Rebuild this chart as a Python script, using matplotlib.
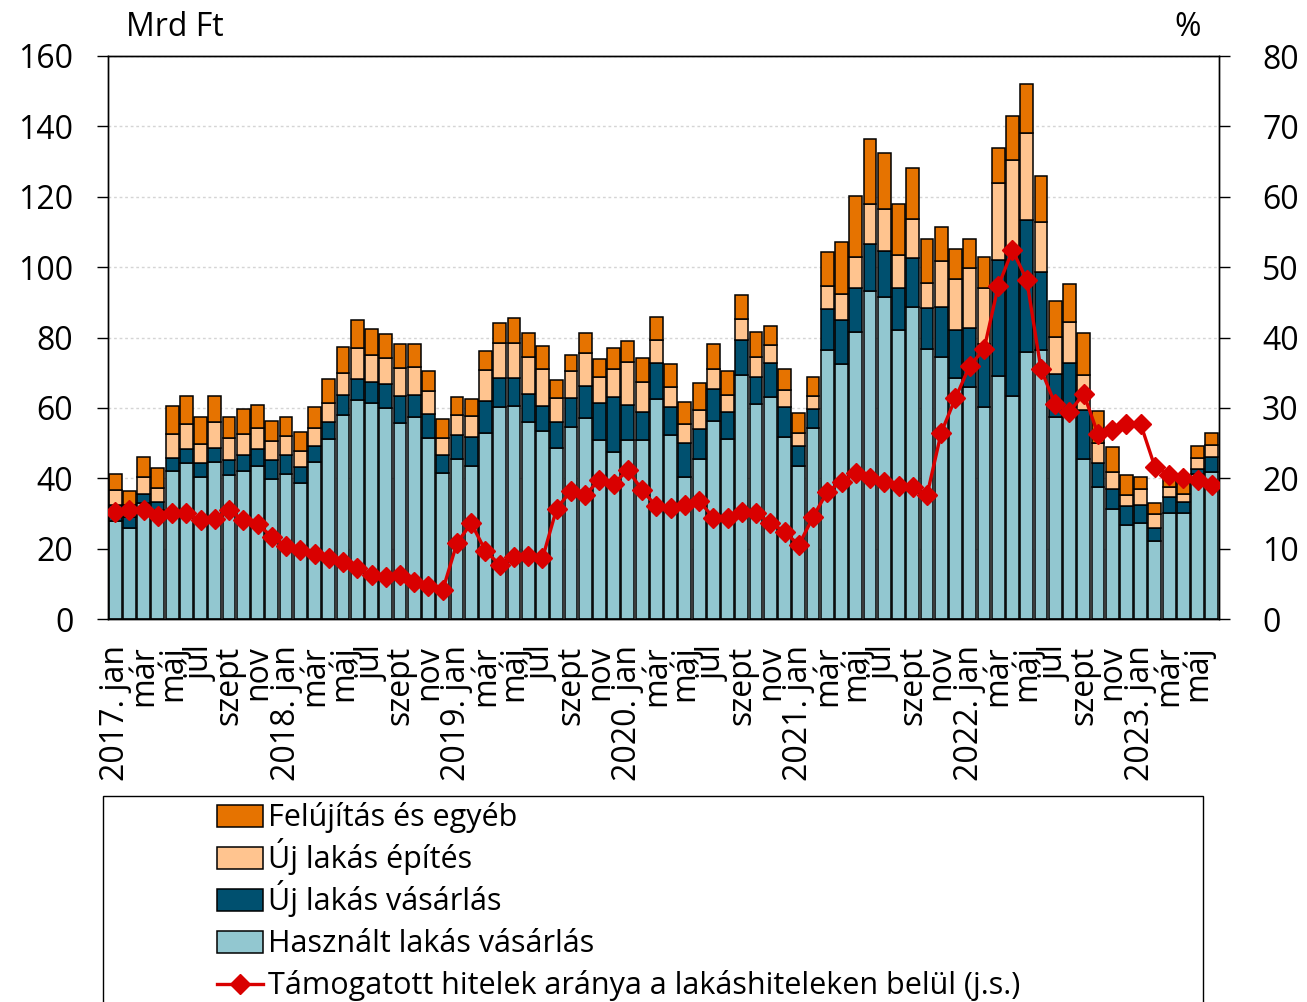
import numpy as np
import matplotlib
matplotlib.use("Agg")
import matplotlib.pyplot as plt
from matplotlib.patches import Rectangle
from matplotlib.lines import Line2D

plt.rcParams['font.family'] = ['Open Sans', 'DejaVu Sans']

# monthly, 2017 jan .. 2023 jun (Mrd Ft)
hasznalt = [27.9, 25.8, 33.0, 31.0, 42.1, 44.2, 40.3, 44.6, 40.9, 42.0, 43.5, 39.8,
            41.2, 38.6, 44.6, 51.1, 57.9, 62.2, 61.3, 60.1, 55.8, 57.5, 51.4, 41.4,
            45.4, 43.6, 52.9, 60.3, 60.5, 56.0, 53.3, 48.5, 54.7, 57.0, 50.9, 47.5,
            50.9, 50.9, 62.5, 52.2, 40.4, 45.4, 56.4, 51.1, 69.3, 61.0, 63.0, 51.6,
            43.6, 54.2, 76.4, 72.5, 81.6, 93.1, 91.6, 82.1, 88.6, 76.7, 74.5, 68.4,
            66.0, 60.2, 69.1, 63.4, 75.8, 76.4, 57.3, 58.0, 45.6, 37.6, 31.4, 26.7,
            27.2, 22.2, 30.2, 30.0, 41.2, 41.9]
uj_vasarlas = [4.6, 3.1, 2.5, 2.2, 3.7, 4.0, 3.9, 4.0, 4.3, 4.7, 4.9, 5.4,
               5.4, 4.7, 4.7, 4.8, 5.8, 6.0, 6.0, 6.7, 7.6, 6.1, 6.8, 5.2,
               6.9, 8.2, 9.0, 8.3, 8.1, 7.9, 7.3, 7.6, 8.2, 9.2, 10.6, 15.7,
               9.8, 7.8, 10.2, 8.1, 9.7, 8.7, 8.9, 7.7, 10.0, 7.9, 9.7, 8.7,
               5.7, 5.6, 11.7, 12.5, 12.4, 13.4, 13.0, 12.1, 13.9, 11.8, 14.3, 13.7,
               16.6, 17.9, 32.9, 41.5, 37.6, 22.3, 12.3, 14.7, 13.8, 6.8, 5.6, 5.4,
               5.2, 3.7, 4.4, 3.3, 1.4, 4.2]
uj_epites = [4.2, 3.5, 4.9, 4.1, 6.8, 7.2, 5.5, 7.4, 6.3, 5.9, 6.0, 5.4,
             5.4, 4.5, 5.1, 5.4, 6.3, 8.7, 7.7, 7.4, 7.9, 7.9, 6.6, 4.9,
             5.7, 5.9, 8.8, 9.7, 9.9, 10.6, 10.4, 6.6, 7.6, 9.5, 7.4, 7.8,
             12.2, 8.7, 6.6, 5.7, 5.3, 5.3, 5.7, 4.9, 5.9, 5.5, 5.2, 4.8,
             3.5, 3.6, 6.6, 7.4, 9.0, 11.3, 11.9, 9.2, 11.3, 7.1, 12.8, 14.6,
             17.2, 15.9, 21.8, 25.5, 24.6, 14.0, 10.5, 11.8, 9.9, 5.5, 4.9, 3.1,
             4.6, 3.9, 3.0, 2.1, 3.1, 3.3]
felujitas = [4.5, 4.1, 5.7, 5.5, 7.9, 8.1, 7.6, 7.5, 5.8, 7.0, 6.5, 5.6,
             5.3, 5.3, 5.8, 6.9, 7.3, 8.2, 7.4, 6.7, 6.9, 6.7, 5.8, 5.3,
             5.0, 4.8, 5.6, 5.9, 7.1, 6.8, 6.6, 5.2, 4.5, 5.5, 5.0, 5.9,
             6.1, 6.7, 6.6, 6.5, 6.4, 7.6, 7.1, 6.9, 6.9, 7.1, 5.4, 6.0,
             5.8, 5.3, 9.6, 14.8, 17.2, 18.5, 15.8, 14.6, 14.4, 12.5, 9.9, 8.4,
             8.2, 9.0, 10.1, 12.5, 14.0, 13.2, 10.3, 10.8, 11.9, 9.2, 7.1, 5.6,
             3.4, 3.1, 2.7, 3.6, 3.5, 3.6]
# %
tamogatott = [15.2, 15.5, 15.5, 14.6, 15.0, 15.0, 14.0, 14.2, 15.5, 14.0, 13.5, 11.7,
              10.4, 9.8, 9.3, 8.6, 8.1, 7.2, 6.3, 5.9, 6.3, 5.2, 4.7, 4.1,
              10.8, 13.6, 9.7, 7.7, 8.8, 9.0, 8.6, 15.7, 18.2, 17.6, 19.8, 19.2,
              21.2, 18.3, 16.0, 15.8, 16.2, 16.8, 14.4, 14.4, 15.2, 15.0, 13.7, 12.4,
              10.5, 14.5, 18.1, 19.5, 20.8, 20.1, 19.5, 18.9, 18.7, 17.6, 26.5, 31.4,
              36.0, 38.3, 47.3, 52.4, 48.2, 35.5, 30.5, 29.4, 32.0, 26.3, 26.8, 27.7,
              27.7, 21.6, 20.5, 20.0, 19.8, 19.1]

honapok = ['jan', 'már', 'máj', 'júl', 'szept', 'nov']
evek = [2017, 2018, 2019, 2020, 2021, 2022, 2023]
nevek = ['Felújítás és egyéb', 'Új lakás építés', 'Új lakás vásárlás',
         'Használt lakás vásárlás', 'Támogatott hitelek aránya a lakáshiteleken belül (j.s.)']

c_light = '#92C7D0'
c_dark = '#00506F'
c_peach = '#FFC48F'
c_orange = '#E67300'
c_red = '#D90000'

W, H = 1307, 1002
fig = plt.figure(figsize=(W/100, H/100), dpi=100)
ax = fig.add_axes([108/W, 1-619/H, (1219-108)/W, (619-56)/H])

x = np.arange(len(hasznalt))
h = np.array(hasznalt)
d = np.array(uj_vasarlas)
p = np.array(uj_epites)
o = np.array(felujitas)
kw = dict(width=0.9, edgecolor='black', linewidth=1.1, zorder=2)
ax.bar(x, h, color=c_light, **kw)
ax.bar(x, d, bottom=h, color=c_dark, **kw)
ax.bar(x, p, bottom=h+d, color=c_peach, **kw)
ax.bar(x, o, bottom=h+d+p, color=c_orange, **kw)

ax.set_xlim(-0.5, len(x)-0.5)
ax.set_ylim(0, 160)
ax.set_yticks(np.arange(0, 161, 20))
ax.yaxis.grid(True, color='#D5D5D5', linestyle=(0, (2, 2)), linewidth=1)
ax.set_axisbelow(True)

labels = []
for y in evek:
    for m in honapok:
        labels.append(m)
labels = labels[:39]
for i in range(0, 39, 6):
    labels[i] = '%d. jan' % evek[i // 6]
ax.set_xticks(x[::2])
ax.set_xticklabels(labels, rotation=90, va='top', ha='center')
ax.tick_params(axis='x', length=0, pad=19, labelsize=23)
ax.tick_params(axis='y', direction='out', length=8, width=1, pad=17, labelsize=23)

ax2 = ax.twinx()
ax2.plot(x, tamogatott, color=c_red, linewidth=2.4, marker='D', markersize=10, zorder=3)
ax2.set_ylim(0, 80)
ax2.set_yticks(np.arange(0, 81, 10))
ax2.tick_params(axis='y', direction='out', length=8, width=1, pad=23, labelsize=23)

for a in (ax, ax2):
    for s in a.spines.values():
        s.set_color('black')
        s.set_linewidth(1)

fig.text(126/W, 1-28/H, 'Mrd Ft', fontsize=23, ha='left', va='center')
fig.text(1188/W, 1-28/H, '%', fontsize=23, ha='center', va='center')

# legend box
fig.add_artist(Rectangle((103/W, -0.02), 1100/W, 0.02+1-796/H,
                         transform=fig.transFigure, fill=False,
                         edgecolor='black', linewidth=1))
szinek = [c_orange, c_peach, c_dark, c_light]
for i, nev in enumerate(nevek):
    yc = 1 - (816 + 42*i)/H
    if i < 4:
        fig.add_artist(Rectangle((217/W, yc - 11/H), 46/W, 22/H, transform=fig.transFigure,
                                 facecolor=szinek[i], edgecolor='black', linewidth=1.1))
    else:
        fig.add_artist(Line2D([217/W, 263/W], [yc, yc], transform=fig.transFigure,
                              color=c_red, linewidth=2.4))
        fig.add_artist(Line2D([240/W], [yc], transform=fig.transFigure, color=c_red,
                              marker='D', markersize=10))
    fig.text(268/W, yc - 10/H, nev, fontsize=22, ha='left', va='baseline')

fig.savefig('out.png', dpi=100)
